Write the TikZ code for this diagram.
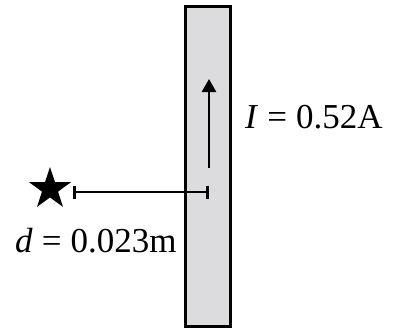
\documentclass[tikz,border=0pt]{standalone}
\usepackage{fontspec}
\setmainfont{Liberation Serif}
\usetikzlibrary{arrows.meta,shapes.geometric}
\definecolor{wiregrey}{RGB}{220,220,222}
\tikzset{
  wirebox/.style={draw=black, line width=3pt, fill=wiregrey, minimum width=45pt, minimum height=320pt, inner sep=0pt},
  curarrow/.style={line width=2.6pt, -{Triangle[length=13pt,width=14pt]}},
  distbar/.style={line width=2.6pt, {Bar[width=13pt,line width=2.6pt]}-{Bar[width=13pt,line width=2.6pt]}},
  starmark/.style={star, star points=5, star point ratio=2.6, fill=black, minimum size=44pt, inner sep=0pt},
  lbl/.style={font=\fontsize{35}{40}\selectfont, inner sep=0pt}
}
\begin{document}
\begin{tikzpicture}[x=1pt,y=-1pt]
\useasboundingbox (0,0) rectangle (393,333);
\node[wirebox] (wire) at (208,166.5) {};
\coordinate (c1) at (209,168);
\coordinate (c2) at (209,79);
\draw[curarrow] (c1) -- (c2);
\node[starmark] (star) at (50,189) {};
\coordinate (b1) at (73,192);
\coordinate (b2) at (209,192);
\draw[distbar] (b1) -- (b2);
\node[lbl, anchor=west] (ilabel) at (245,117) {\textit{I}\hspace{0.26em}=\hspace{0.26em}0.52A};
\node[lbl, anchor=west] (dlabel) at (15,241) {\textit{d}\hspace{0.26em}=\hspace{0.26em}0.023m};
\end{tikzpicture}
\end{document}
